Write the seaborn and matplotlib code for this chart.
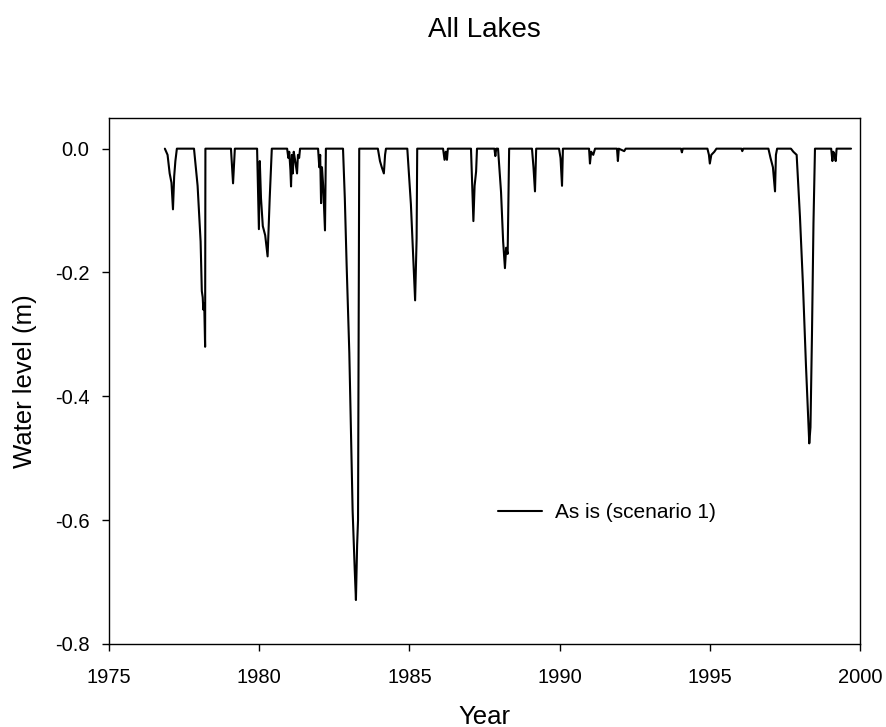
import matplotlib
matplotlib.use("Agg")
import matplotlib.pyplot as plt
import seaborn as sns
import pandas as pd

# ---- data ----
years = [
    1976.86, 1976.95, 1977.02, 1977.08, 1977.13, 1977.17, 1977.21, 1977.26,
    1977.83, 1977.95, 1978.05, 1978.09, 1978.12, 1978.14, 1978.17, 1978.20, 1978.21,
    1979.06, 1979.13, 1979.19,
    1979.93, 1979.99, 1980.02, 1980.06, 1980.12, 1980.20, 1980.28, 1980.35, 1980.42,
    1980.93, 1980.97, 1981.00, 1981.04, 1981.06, 1981.09, 1981.12, 1981.15, 1981.20, 1981.26, 1981.29, 1981.33, 1981.36,
    1981.96, 1982.00, 1982.03, 1982.06, 1982.09, 1982.13, 1982.19, 1982.21, 1982.22,
    1982.79, 1982.85, 1982.91, 1983.00, 1983.11, 1983.18, 1983.22, 1983.26, 1983.29, 1983.31, 1983.33,
    1983.95, 1984.02, 1984.08, 1984.15, 1984.19, 1984.22,
    1984.93, 1985.05, 1985.14, 1985.19, 1985.24, 1985.26,
    1986.12, 1986.17, 1986.21, 1986.25, 1986.28,
    1987.05, 1987.13, 1987.17, 1987.22, 1987.25,
    1987.83, 1987.86, 1987.89,
    1987.95, 1988.05, 1988.12, 1988.18, 1988.22, 1988.27, 1988.32,
    1989.08, 1989.13, 1989.18, 1989.22,
    1989.98, 1990.03, 1990.08, 1990.11,
    1990.98, 1991.01, 1991.05, 1991.12, 1991.18,
    1991.91, 1991.94, 1991.97, 1992.15, 1992.20,
    1994.04, 1994.07, 1994.10,
    1994.92, 1994.97, 1995.00, 1995.05, 1995.15, 1995.22,
    1996.05, 1996.08, 1996.11,
    1996.95, 1997.02, 1997.10, 1997.17, 1997.20, 1997.24,
    1997.70, 1997.78, 1997.89, 1998.00, 1998.10, 1998.20, 1998.31, 1998.35, 1998.40, 1998.45, 1998.50,
    1999.04, 1999.08, 1999.11, 1999.15, 1999.19, 1999.22,
    1999.70,
]
levels = [
    0.000, -0.010, -0.040, -0.055, -0.098, -0.045, -0.020, 0.000,
    0.000, -0.060, -0.150, -0.230, -0.240, -0.260, -0.250, -0.320, 0.000,
    0.000, -0.056, 0.000,
    0.000, -0.130, -0.020, -0.080, -0.125, -0.140, -0.174, -0.080, 0.000,
    0.000, -0.015, -0.005, -0.035, -0.061, -0.010, -0.040, -0.005, -0.020, -0.040, -0.010, -0.015, 0.000,
    0.000, -0.030, -0.010, -0.088, -0.030, -0.060, -0.132, -0.050, 0.000,
    0.000, -0.080, -0.187, -0.330, -0.585, -0.680, -0.729, -0.640, -0.600, -0.300, 0.000,
    0.000, -0.020, -0.030, -0.040, -0.010, 0.000,
    0.000, -0.090, -0.190, -0.245, -0.145, 0.000,
    0.000, -0.018, -0.005, -0.018, 0.000,
    0.000, -0.117, -0.060, -0.037, 0.000,
    0.000, -0.012, 0.000,
    0.000, -0.070, -0.150, -0.193, -0.160, -0.170, 0.000,
    0.000, -0.030, -0.069, 0.000,
    0.000, -0.015, -0.060, 0.000,
    0.000, -0.024, -0.005, -0.010, 0.000,
    0.000, -0.020, 0.000, -0.004, 0.000,
    0.000, -0.006, 0.000,
    0.000, -0.010, -0.024, -0.010, -0.005, 0.000,
    0.000, -0.004, 0.000,
    0.000, -0.015, -0.030, -0.069, -0.010, 0.000,
    0.000, -0.005, -0.010, -0.110, -0.220, -0.350, -0.476, -0.450, -0.300, -0.120, 0.000,
    0.000, -0.020, -0.005, -0.010, -0.020, 0.000,
    0.000,
]
series_name = "As is (scenario 1)"
x_ticks = [1975, 1980, 1985, 1990, 1995, 2000]
y_ticks = [0.0, -0.2, -0.4, -0.6, -0.8]

df = pd.DataFrame({"Year": years, "Level": levels, "Series": series_name})

sns.set_style("ticks")
plt.rcParams["font.family"] = ["Liberation Sans", "DejaVu Sans"]
plt.rcParams["text.color"] = "black"
plt.rcParams["axes.labelcolor"] = "black"
plt.rcParams["xtick.color"] = "black"
plt.rcParams["ytick.color"] = "black"

fig = plt.figure(figsize=(8.86, 7.27), dpi=100)
ax = fig.add_axes([0.1230, 0.1142, 0.9707 - 0.1230, 0.8381 - 0.1142])

sns.lineplot(data=df, x="Year", y="Level", hue="Series", palette=["black"],
             linewidth=1.5, errorbar=None, ax=ax)

ax.set_xlim(1975, 2000)
ax.set_ylim(-0.8, 0.05)
ax.set_xticks(x_ticks)
ax.set_xticklabels([str(t) for t in x_ticks])
ax.set_yticks(y_ticks)
ax.set_yticklabels([f"{t:.1f}" for t in y_ticks])

for s in ax.spines.values():
    s.set_visible(True)
    s.set_color("black")
    s.set_linewidth(1.0)
ax.tick_params(axis="both", which="both", direction="out", length=5, width=1,
               color="black", labelcolor="black", labelsize=14.5,
               top=False, right=False)
ax.tick_params(axis="x", pad=12)
ax.tick_params(axis="y", pad=9)

ax.set_xlabel("Year", fontsize=18.5, va="center", color="black")
ax.xaxis.set_label_coords(0.5, -0.138)
ax.set_ylabel("Water level (m)", fontsize=18.5, va="center", ha="center", color="black")
ax.yaxis.set_label_coords(-0.112, 0.5)

leg = ax.legend(loc="center left", bbox_to_anchor=(0.518, 0.249), frameon=False,
                fontsize=15, handlelength=2.1, handletextpad=0.65,
                borderaxespad=0, borderpad=0)
for h in leg.get_lines():
    h.set_linewidth(1.5)
for t in leg.get_texts():
    t.set_color("black")

fig.text((0.1230 + 0.9707) / 2, 1 - 30 / 727, "All Lakes", fontsize=20,
         ha="center", va="center", color="black")

fig.savefig("out.png", dpi=100, facecolor="white")
